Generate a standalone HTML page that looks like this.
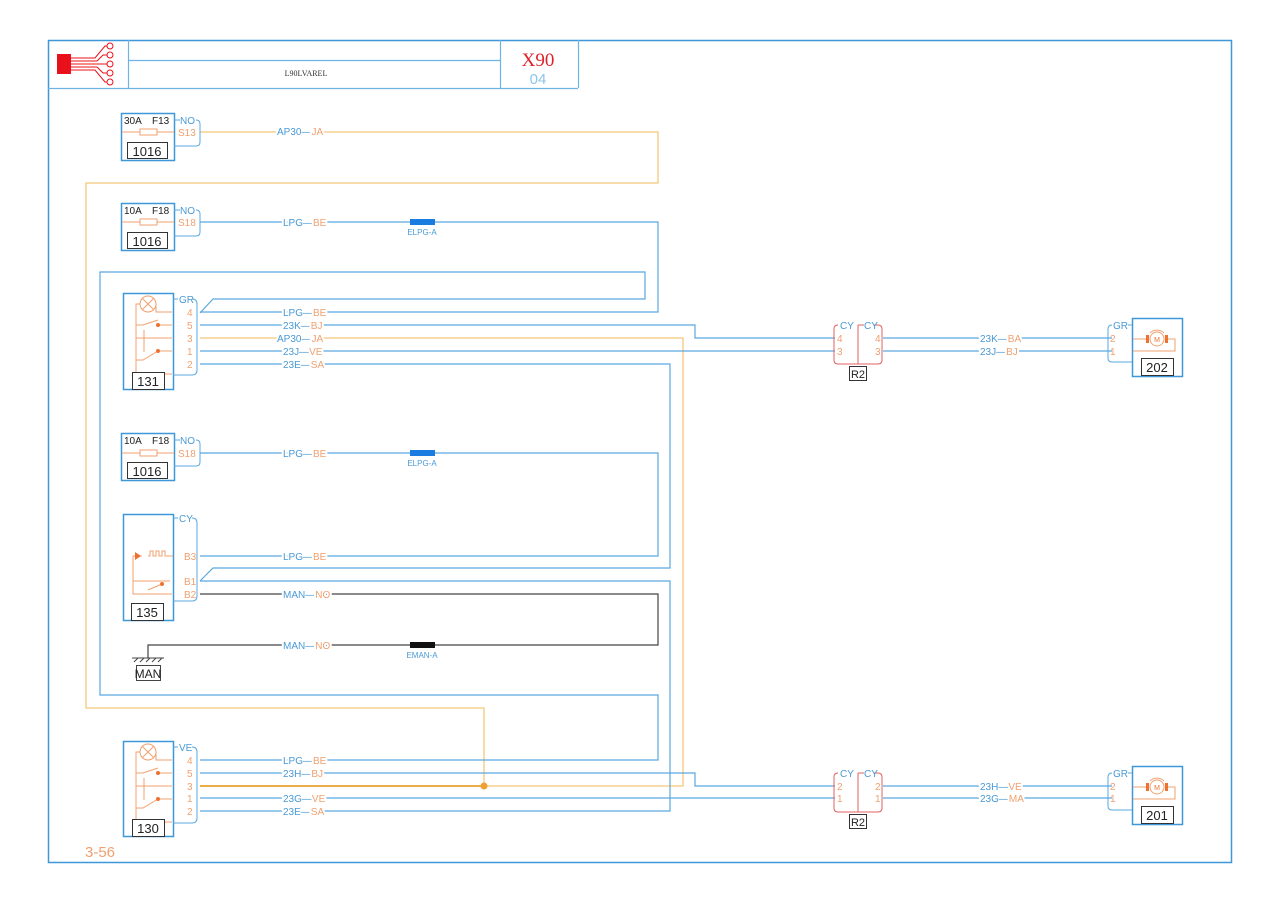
<!DOCTYPE html>
<html><head><meta charset="utf-8"><style>
html,body{margin:0;padding:0;background:#fff;}
svg{display:block;}
text{font-family:"Liberation Sans",sans-serif;}
.b{fill:#4a9ad6}.o{fill:#f0a070}.k{fill:#333}
.wl text{paint-order:stroke;stroke:#fff;stroke-width:4px;stroke-linejoin:round;}
.wl tspan{paint-order:stroke;stroke:#fff;stroke-width:4px;}
</style></head><body>
<svg width="1280" height="905" viewBox="0 0 1280 905" xmlns="http://www.w3.org/2000/svg">
<rect x="0" y="0" width="1280" height="905" fill="#fff"/>
<!-- frame -->
<rect x="48.5" y="40.5" width="1183" height="822" fill="none" stroke="#3d97d9" stroke-width="1.5"/>
<g stroke="#6fb3e3" stroke-width="1.2" fill="none">
<line x1="48" y1="88.5" x2="578" y2="88.5"/>
<line x1="128.5" y1="40" x2="128.5" y2="88"/>
<line x1="500.5" y1="40" x2="500.5" y2="88"/>
<line x1="578.5" y1="40" x2="578.5" y2="88"/>
<line x1="128" y1="60.5" x2="500" y2="60.5"/>
</g>
<text x="306" y="76" font-size="8" text-anchor="middle" fill="#333" style="font-family:'Liberation Serif',serif">L90LVAREL</text>
<text x="538" y="66" font-size="19" text-anchor="middle" fill="#e0202a" style="font-family:'Liberation Serif',serif">X90</text>
<text x="538" y="84" font-size="15" text-anchor="middle" fill="#8cc4ea">04</text>
<!-- logo -->
<rect x="57" y="54" width="14" height="20" fill="#e8101a"/>
<g stroke="#e8101a" stroke-width="1" fill="none">
<polyline points="71,58 95,58 105,46 107,46"/>
<polyline points="71,61 97,61 103,55 107,55"/>
<polyline points="71,64 107,64"/>
<polyline points="71,67 97,67 103,73 107,73"/>
<polyline points="71,70 95,70 105,82 107,82"/>
<circle cx="110" cy="46" r="3"/><circle cx="110" cy="55" r="3"/><circle cx="110" cy="64" r="3"/><circle cx="110" cy="73" r="3"/><circle cx="110" cy="82" r="3"/>
</g>

<!-- wires: orange light -->
<g fill="none" stroke="#f5c87a" stroke-width="1.3">
<polyline points="200,132 658,132 658,183 86,183 86,708 484,708 484,785"/>
<polyline points="200,338 683,338 683,786 484,786"/>
</g>
<line x1="200" y1="786" x2="484" y2="786" stroke="#e8a030" stroke-width="1.8"/>
<circle cx="484" cy="786" r="3.5" fill="#f0a030"/>
<!-- blue wires -->
<g fill="none" stroke="#5aa8e0" stroke-width="1.2">
<polyline points="200,222 658,222 658,312 200,312"/>
<polyline points="200,313 213,299 645,299 645,272 100,272 100,695 658,695 658,760 200,760"/>
<polyline points="200,325 695,325 695,338 835,338"/>
<polyline points="200,351 835,351"/>
<polyline points="200,364 670,364 670,568 213,568 200,581"/>
<polyline points="200,581 670,581 670,811 200,811"/>
<polyline points="200,453 658,453 658,556 200,556"/>
<polyline points="200,773 695,773 695,786 835,786"/>
<polyline points="200,798 835,798"/>
<polyline points="883,338 1112,338"/><polyline points="883,351 1112,351"/>
<polyline points="883,786 1112,786"/><polyline points="883,798 1112,798"/>
</g>
<!-- black wires -->
<g fill="none" stroke="#444" stroke-width="1.2">
<polyline points="200,594 658,594 658,645 148,645 148,658"/>
</g>
<rect x="410" y="219" width="25" height="6" fill="#1a7be0"/>
<rect x="410" y="450" width="25" height="6" fill="#1a7be0"/>
<rect x="410" y="642" width="25" height="6" fill="#111"/>
<g font-size="8" text-anchor="middle">
<text x="422" y="235" class="b">ELPG-A</text>
<text x="422" y="466" class="b">ELPG-A</text>
<text x="422" y="658" class="b">EMAN-A</text>
</g>
<!-- ground -->
<g stroke="#444" stroke-width="1" fill="none">
<line x1="132" y1="658" x2="164" y2="658"/>
<line x1="134" y1="662" x2="138" y2="658"/><line x1="140" y1="662" x2="144" y2="658"/><line x1="146" y1="662" x2="150" y2="658"/><line x1="152" y1="662" x2="156" y2="658"/><line x1="158" y1="662" x2="162" y2="658"/>
<rect x="136.5" y="665.5" width="24" height="15"/>
</g>
<text x="148" y="678" font-size="12" text-anchor="middle" fill="#222">MAN</text>

<!-- wire labels -->
<g font-size="10" class="wl">
<text x="277" y="135" class="b">AP30—<tspan class="o">JA</tspan></text>
<text x="283" y="226" class="b">LPG—<tspan class="o">BE</tspan></text>
<text x="283" y="316" class="b">LPG—<tspan class="o">BE</tspan></text>
<text x="283" y="329" class="b">23K—<tspan class="o">BJ</tspan></text>
<text x="277" y="342" class="b">AP30—<tspan class="o">JA</tspan></text>
<text x="283" y="355" class="b">23J—<tspan class="o">VE</tspan></text>
<text x="283" y="368" class="b">23E—<tspan class="o">SA</tspan></text>
<text x="283" y="457" class="b">LPG—<tspan class="o">BE</tspan></text>
<text x="283" y="560" class="b">LPG—<tspan class="o">BE</tspan></text>
<text x="283" y="598" class="b">MAN—<tspan class="o">NO</tspan></text>
<text x="283" y="649" class="b">MAN—<tspan class="o">NO</tspan></text>
<text x="283" y="764" class="b">LPG—<tspan class="o">BE</tspan></text>
<text x="283" y="777" class="b">23H—<tspan class="o">BJ</tspan></text>
<text x="283" y="802" class="b">23G—<tspan class="o">VE</tspan></text>
<text x="283" y="815" class="b">23E—<tspan class="o">SA</tspan></text>
<text x="980" y="342" class="b">23K—<tspan class="o">BA</tspan></text>
<text x="980" y="355" class="b">23J—<tspan class="o">BJ</tspan></text>
<text x="980" y="790" class="b">23H—<tspan class="o">VE</tspan></text>
<text x="980" y="802" class="b">23G—<tspan class="o">MA</tspan></text>
</g>

<!-- fuse boxes -->
<g stroke="#3d97d9" stroke-width="1.5" fill="#fff">
<rect x="121.5" y="113.5" width="53" height="47"/>
<rect x="121.5" y="203.5" width="53" height="47"/>
<rect x="121.5" y="433.5" width="53" height="47"/>
</g>
<g stroke="#5aa8e0" stroke-width="1" fill="none">
<path d="M174,120 H180 M196,120 Q200,120 200,124 V142 Q200,146 196,146 H174"/>
<path d="M174,210 H180 M196,210 Q200,210 200,214 V232 Q200,236 196,236 H174"/>
<path d="M174,440 H180 M196,440 Q200,440 200,444 V462 Q200,466 196,466 H174"/>
</g>
<g stroke="#f0a070" stroke-width="1" fill="none">
<line x1="122" y1="132" x2="174" y2="132"/><rect x="140" y="129" width="17" height="6" fill="#fff"/>
<line x1="122" y1="222" x2="174" y2="222"/><rect x="140" y="219" width="17" height="6" fill="#fff"/>
<line x1="122" y1="453" x2="174" y2="453"/><rect x="140" y="450" width="17" height="6" fill="#fff"/>
</g>
<g stroke="#333" stroke-width="1" fill="#fff">
<rect x="127.5" y="142.5" width="40" height="16"/>
<rect x="127.5" y="232.5" width="40" height="16"/>
<rect x="127.5" y="462.5" width="40" height="16"/>
</g>
<g font-size="13" text-anchor="middle" fill="#222">
<text x="147" y="156">1016</text><text x="147" y="246">1016</text><text x="147" y="476">1016</text>
</g>
<g font-size="10" fill="#222">
<text x="124" y="124">30A</text><text x="152" y="124">F13</text>
<text x="124" y="214">10A</text><text x="152" y="214">F18</text>
<text x="124" y="444">10A</text><text x="152" y="444">F18</text>
</g>
<g font-size="10">
<text x="180" y="124" class="b">NO</text><text x="178" y="136" class="o">S13</text>
<text x="180" y="214" class="b">NO</text><text x="178" y="226" class="o">S18</text>
<text x="180" y="444" class="b">NO</text><text x="178" y="457" class="o">S18</text>
</g>

<!-- 131, 130, 135 -->
<g stroke="#3d97d9" stroke-width="1.5" fill="#fff">
<rect x="123.5" y="293.5" width="50" height="96"/>
<rect x="123.5" y="741.5" width="50" height="95"/>
<rect x="123.5" y="514.5" width="50" height="106"/>
</g>
<g stroke="#5aa8e0" stroke-width="1" fill="none">
<path d="M173,299 H178 M192,299 Q197,299 197,304 V370 Q197,375 192,375 H173"/>
<path d="M173,747 H178 M192,747 Q197,747 197,752 V818 Q197,823 192,823 H173"/>
<path d="M173,518 H178 M192,518 Q197,518 197,523 V596 Q197,601 192,601 H173"/>
</g>
<g stroke="#f0a070" stroke-width="1" fill="none">
<circle cx="148" cy="304" r="8"/><line x1="142" y1="298" x2="154" y2="310"/><line x1="154" y1="298" x2="142" y2="310"/>
<path d="M140,304 H136 V374 H172 M156,304 V312 H172 M136,325 H143 L158,320 M158,325 H172 M144,330 V352 M136,338 H172 M136,360 H143 L158,351 M158,351 H172"/>
<circle cx="148" cy="752" r="8"/><line x1="142" y1="746" x2="154" y2="758"/><line x1="154" y1="746" x2="142" y2="758"/>
<path d="M140,752 H136 V822 H172 M156,752 V760 H172 M136,773 H143 L158,768 M158,773 H172 M144,778 V800 M136,786 H172 M136,808 H143 L158,799 M158,799 H172"/>
<path d="M133,556 V594 H172 M133,556 H142 M148,556 h2 v-5 h3 v5 h3 v-5 h3 v5 h3 v-5 h3 v5 h8 M133,581 H150 M150,581 h20 M148,590 L162,584"/>
</g>
<polygon points="135,552 141,556 135,560" fill="#f07030"/>
<g fill="#f07030"><circle cx="158" cy="325" r="2"/><circle cx="158" cy="351" r="2"/><circle cx="158" cy="773" r="2"/><circle cx="158" cy="799" r="2"/><circle cx="162" cy="584" r="2"/></g>
<g stroke="#333" stroke-width="1" fill="#fff">
<rect x="132.5" y="372.5" width="32" height="17"/>
<rect x="132.5" y="819.5" width="32" height="17"/>
<rect x="131.5" y="603.5" width="32" height="17"/>
</g>
<g font-size="13" text-anchor="middle" fill="#222">
<text x="148" y="386">131</text><text x="148" y="833">130</text><text x="147" y="617">135</text>
</g>
<g font-size="10">
<text x="179" y="303" class="b">GR</text>
<text x="187" y="316" class="o">4</text><text x="187" y="329" class="o">5</text><text x="187" y="342" class="o">3</text><text x="187" y="355" class="o">1</text><text x="187" y="368" class="o">2</text>
<text x="179" y="751" class="b">VE</text>
<text x="187" y="764" class="o">4</text><text x="187" y="777" class="o">5</text><text x="187" y="790" class="o">3</text><text x="187" y="802" class="o">1</text><text x="187" y="815" class="o">2</text>
<text x="179" y="522" class="b">CY</text>
<text x="184" y="560" class="o">B3</text><text x="184" y="585" class="o">B1</text><text x="184" y="598" class="o">B2</text>
</g>

<!-- R2 connectors -->
<g stroke="#e06060" stroke-width="1" fill="none">
<path d="M838,325 Q834,325 834,329 V360 Q834,364 838,364 H858 V325 M858,364 H878 Q882,364 882,360 V329 Q882,325 878,325 H874 M858,325 H864"/>
<path d="M838,773 Q834,773 834,777 V808 Q834,812 838,812 H858 V773 M858,812 H878 Q882,812 882,808 V777 Q882,773 878,773 H874 M858,773 H864"/>
</g>
<g stroke="#333" stroke-width="1" fill="#fff">
<rect x="849.5" y="366.5" width="17" height="14"/>
<rect x="849.5" y="814.5" width="17" height="14"/>
</g>
<g font-size="11" text-anchor="middle" fill="#222"><text x="858" y="378">R2</text><text x="858" y="826">R2</text></g>
<g font-size="10">
<text x="840" y="329" class="b">CY</text><text x="864" y="329" class="b">CY</text>
<text x="837" y="342" class="o">4</text><text x="875" y="342" class="o">4</text>
<text x="837" y="355" class="o">3</text><text x="875" y="355" class="o">3</text>
<text x="840" y="777" class="b">CY</text><text x="864" y="777" class="b">CY</text>
<text x="837" y="790" class="o">2</text><text x="875" y="790" class="o">2</text>
<text x="837" y="802" class="o">1</text><text x="875" y="802" class="o">1</text>
</g>

<!-- motors 202, 201 -->
<g stroke="#3d97d9" stroke-width="1.5" fill="#fff">
<rect x="1132.5" y="318.5" width="50" height="58"/>
<rect x="1132.5" y="766.5" width="50" height="58"/>
</g>
<g stroke="#5aa8e0" stroke-width="1" fill="none">
<path d="M1132,325 H1128 M1112,325 Q1108,325 1108,329 V358 Q1108,362 1112,362 H1132"/>
<path d="M1132,773 H1128 M1112,773 Q1108,773 1108,777 V806 Q1108,810 1112,810 H1132"/>
</g>
<g stroke="#f0a070" stroke-width="1" fill="none">
<circle cx="1157" cy="339" r="7"/><path d="M1133,339 H1146 M1168,339 H1175 V351 H1133"/>
<path d="M1150,333 A10,10 0 0 1 1164,333"/>
<circle cx="1157" cy="787" r="7"/><path d="M1133,787 H1146 M1168,787 H1175 V799 H1133"/>
<path d="M1150,781 A10,10 0 0 1 1164,781"/>
</g>
<g fill="#f07030"><rect x="1146" y="335" width="3" height="8"/><rect x="1165" y="335" width="3" height="8"/><rect x="1146" y="783" width="3" height="8"/><rect x="1165" y="783" width="3" height="8"/></g>
<g font-size="7" fill="#f07030" text-anchor="middle"><text x="1157" y="342">M</text><text x="1157" y="790">M</text></g>
<g stroke="#333" stroke-width="1" fill="#fff">
<rect x="1141.5" y="358.5" width="32" height="17"/>
<rect x="1141.5" y="806.5" width="32" height="17"/>
</g>
<g font-size="13" text-anchor="middle" fill="#222"><text x="1157" y="372">202</text><text x="1157" y="820">201</text></g>
<g font-size="10">
<text x="1113" y="329" class="b">GR</text><text x="1110" y="342" class="o">2</text><text x="1110" y="355" class="o">1</text>
<text x="1113" y="777" class="b">GR</text><text x="1110" y="790" class="o">2</text><text x="1110" y="802" class="o">1</text>
</g>

<text x="85" y="857" font-size="15" fill="#f0a070">3-56</text>
</svg>
</body></html>
